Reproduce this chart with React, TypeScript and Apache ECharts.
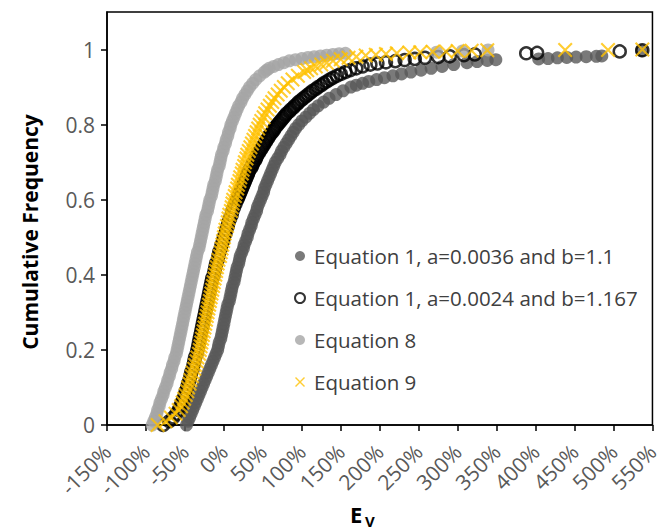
import React, { useEffect, useRef } from "react";
import * as echarts from "echarts";

// [E_v (%), cumulative frequency]
const eq1aData: [number, number][] = [
  [-48, 0.0], [-46, 0.01], [-44, 0.02], [-42, 0.03], [-40, 0.04], [-38, 0.05], [-36, 0.06], [-34, 0.07], [-32, 0.08], [-30, 0.09],
  [-28, 0.1], [-26, 0.11], [-24, 0.12], [-22, 0.13], [-20, 0.14], [-18, 0.15], [-16, 0.16], [-14, 0.17], [-12, 0.18], [-10, 0.19],
  [-8, 0.2], [-7, 0.21], [-6, 0.22], [-4, 0.23], [-3, 0.24], [-2, 0.25], [-1, 0.26], [0, 0.27], [1, 0.28], [2, 0.29],
  [3, 0.3], [4, 0.31], [5, 0.32], [7, 0.33], [8, 0.34], [9, 0.35], [10, 0.36], [11, 0.37], [13, 0.38], [14, 0.39],
  [15, 0.4], [16, 0.41], [17, 0.42], [19, 0.43], [20, 0.44], [21, 0.45], [23, 0.46], [25, 0.47], [26, 0.48], [28, 0.49],
  [30, 0.5], [31, 0.51], [33, 0.52], [35, 0.53], [36, 0.54], [38, 0.55], [40, 0.56], [42, 0.57], [43, 0.58], [45, 0.59],
  [47, 0.6], [49, 0.61], [51, 0.62], [52, 0.63], [54, 0.64], [56, 0.65], [58, 0.66], [60, 0.67], [62, 0.68], [64, 0.69],
  [66, 0.7], [69, 0.71], [72, 0.72], [74, 0.73], [77, 0.74], [80, 0.75], [83, 0.76], [86, 0.77], [89, 0.78], [92, 0.79],
  [96, 0.8], [100, 0.81], [105, 0.82], [110, 0.83], [115, 0.84], [121, 0.85], [128, 0.86], [135, 0.87], [144, 0.88], [153, 0.89],
  [163, 0.9], [170, 0.905], [178, 0.91], [186, 0.915], [196, 0.92], [206, 0.925], [217, 0.93], [228, 0.935], [240, 0.94], [253, 0.945],
  [266, 0.95], [280, 0.955], [295, 0.96], [312, 0.965], [325, 0.968], [338, 0.971], [349, 0.973], [404, 0.975], [416, 0.976], [428, 0.978],
  [440, 0.979], [452, 0.98], [465, 0.981], [478, 0.982], [485, 0.983], [536, 0.997],
];

const eq1bData: [number, number][] = [
  [-78, 0.0], [-70, 0.01], [-65, 0.02], [-61, 0.03], [-58, 0.04], [-56, 0.05], [-54, 0.06], [-52, 0.07], [-50, 0.08], [-49, 0.09],
  [-47, 0.1], [-46, 0.11], [-44, 0.12], [-43, 0.13], [-42, 0.14], [-40, 0.15], [-39, 0.16], [-38, 0.17], [-37, 0.18], [-35, 0.19],
  [-34, 0.2], [-33, 0.21], [-32, 0.22], [-31, 0.23], [-30, 0.24], [-29, 0.25], [-28, 0.26], [-27, 0.27], [-26, 0.28], [-25, 0.29],
  [-24, 0.3], [-23, 0.31], [-22, 0.32], [-21, 0.33], [-20, 0.34], [-19, 0.35], [-18, 0.36], [-17, 0.37], [-16, 0.38], [-15, 0.39],
  [-13, 0.4], [-12, 0.41], [-11, 0.42], [-10, 0.43], [-8, 0.44], [-7, 0.45], [-6, 0.46], [-4, 0.47], [-3, 0.48], [-1, 0.49],
  [0, 0.5], [2, 0.51], [3, 0.52], [5, 0.53], [6, 0.54], [8, 0.55], [10, 0.56], [11, 0.57], [13, 0.58], [15, 0.59],
  [17, 0.6], [18, 0.605], [19, 0.61], [20, 0.615], [21, 0.62], [22, 0.625], [23, 0.63], [24, 0.635], [25, 0.64], [26, 0.645],
  [27, 0.65], [28, 0.655], [29, 0.66], [30, 0.665], [31, 0.67], [32, 0.675], [33, 0.68], [35, 0.685], [36, 0.69], [37, 0.695],
  [38, 0.7], [40, 0.705], [41, 0.71], [42, 0.715], [43, 0.72], [45, 0.725], [46, 0.73], [48, 0.735], [49, 0.74], [51, 0.745],
  [52, 0.75], [54, 0.755], [55, 0.76], [57, 0.765], [58, 0.77], [60, 0.775], [62, 0.78], [64, 0.785], [65, 0.79], [67, 0.795],
  [69, 0.8], [71, 0.805], [73, 0.81], [75, 0.815], [77, 0.82], [79, 0.825], [81, 0.83], [84, 0.835], [86, 0.84], [89, 0.845],
  [91, 0.85], [94, 0.855], [96, 0.86], [99, 0.865], [102, 0.87], [105, 0.875], [108, 0.88], [111, 0.885], [114, 0.89], [118, 0.895],
  [121, 0.9], [125, 0.905], [128, 0.91], [132, 0.915], [136, 0.92], [140, 0.925], [145, 0.93], [150, 0.935], [156, 0.94], [162, 0.945],
  [170, 0.95], [178, 0.955], [188, 0.96], [197, 0.963], [208, 0.966], [220, 0.969], [232, 0.972], [245, 0.975], [258, 0.978], [275, 0.98],
  [290, 0.982], [308, 0.985], [322, 0.987], [388, 0.99], [402, 0.991], [508, 0.995], [537, 0.998],
];

const eq8Data: [number, number][] = [
  [-92, 0.0], [-90, 0.01], [-88, 0.02], [-86, 0.03], [-85, 0.04], [-83, 0.05], [-82, 0.06], [-80, 0.07], [-78, 0.08], [-77, 0.09],
  [-75, 0.1], [-73, 0.11], [-72, 0.12], [-70, 0.13], [-69, 0.14], [-67, 0.15], [-66, 0.16], [-64, 0.17], [-63, 0.18], [-61, 0.19],
  [-60, 0.2], [-59, 0.21], [-58, 0.22], [-57, 0.23], [-56, 0.24], [-55, 0.25], [-54, 0.26], [-53, 0.27], [-52, 0.28], [-51, 0.29],
  [-50, 0.3], [-49, 0.31], [-48, 0.32], [-47, 0.33], [-46, 0.34], [-45, 0.35], [-44, 0.36], [-43, 0.37], [-42, 0.38], [-41, 0.39],
  [-40, 0.4], [-39, 0.41], [-38, 0.42], [-37, 0.43], [-36, 0.44], [-35, 0.45], [-34, 0.46], [-32, 0.47], [-31, 0.48], [-30, 0.49],
  [-29, 0.5], [-28, 0.51], [-27, 0.52], [-26, 0.53], [-25, 0.54], [-24, 0.55], [-23, 0.56], [-21, 0.57], [-20, 0.58], [-19, 0.59],
  [-18, 0.6], [-16, 0.61], [-15, 0.62], [-14, 0.63], [-13, 0.64], [-11, 0.65], [-10, 0.66], [-9, 0.67], [-8, 0.68], [-6, 0.69],
  [-5, 0.7], [-4, 0.71], [-3, 0.72], [-1, 0.73], [0, 0.74], [2, 0.75], [3, 0.76], [5, 0.77], [6, 0.78], [8, 0.79],
  [9, 0.8], [11, 0.81], [13, 0.82], [15, 0.83], [17, 0.84], [19, 0.85], [22, 0.86], [24, 0.87], [27, 0.88], [30, 0.89],
  [33, 0.9], [37, 0.91], [41, 0.92], [46, 0.93], [52, 0.94], [55, 0.945], [58, 0.95], [64, 0.955], [70, 0.96], [77, 0.965],
  [84, 0.97], [92, 0.973], [100, 0.976], [108, 0.979], [116, 0.981], [124, 0.983], [132, 0.985], [140, 0.987], [148, 0.989], [156, 0.99],
  [273, 0.993], [306, 0.996], [339, 0.999],
];

const eq9Data: [number, number][] = [
  [-85, 0.0], [-75, 0.01], [-68, 0.02], [-62, 0.03], [-58, 0.04], [-55, 0.05], [-53, 0.06], [-51, 0.07], [-49, 0.08], [-47, 0.09],
  [-46, 0.1], [-44, 0.11], [-43, 0.12], [-41, 0.13], [-40, 0.14], [-38, 0.15], [-37, 0.16], [-35, 0.17], [-34, 0.18], [-32, 0.19],
  [-31, 0.2], [-30, 0.21], [-29, 0.22], [-28, 0.23], [-27, 0.24], [-26, 0.25], [-25, 0.26], [-24, 0.27], [-23, 0.28], [-22, 0.29],
  [-21, 0.3], [-20, 0.31], [-19, 0.32], [-18, 0.33], [-17, 0.34], [-16, 0.35], [-15, 0.36], [-14, 0.37], [-13, 0.38], [-12, 0.39],
  [-11, 0.4], [-10, 0.41], [-9, 0.42], [-8, 0.43], [-7, 0.44], [-5, 0.45], [-4, 0.46], [-3, 0.47], [-2, 0.48], [-1, 0.49],
  [0, 0.5], [1, 0.51], [2, 0.52], [4, 0.53], [5, 0.54], [6, 0.55], [7, 0.56], [9, 0.57], [10, 0.58], [11, 0.59],
  [12, 0.6], [14, 0.61], [15, 0.62], [17, 0.63], [18, 0.64], [20, 0.65], [21, 0.66], [23, 0.67], [24, 0.68], [26, 0.69],
  [27, 0.7], [29, 0.71], [30, 0.72], [32, 0.73], [34, 0.74], [36, 0.75], [38, 0.76], [40, 0.77], [42, 0.78], [44, 0.79],
  [46, 0.8], [48, 0.81], [51, 0.82], [53, 0.83], [56, 0.84], [59, 0.85], [62, 0.86], [65, 0.87], [69, 0.88], [73, 0.89],
  [77, 0.9], [82, 0.91], [88, 0.92], [95, 0.93], [103, 0.94], [107, 0.945], [112, 0.95], [118, 0.955], [125, 0.96], [132, 0.965],
  [140, 0.97], [150, 0.974], [160, 0.978], [170, 0.981], [182, 0.984], [195, 0.986], [208, 0.988], [222, 0.99], [238, 0.992], [252, 0.993],
  [268, 0.994], [285, 0.995], [300, 0.996], [318, 0.997], [338, 0.998], [438, 0.9985], [493, 0.999], [537, 1.0],
];

const xTicks = { min: -150, max: 550, step: 50 };
const yTickValues = [0, 0.2, 0.4, 0.6, 0.8, 1];

const seriesNames = [
  "Equation 1, a=0.0036 and b=1.1",
  "Equation 1, a=0.0024 and b=1.167",
  "Equation 8",
  "Equation 9",
];
const yTitle = "Cumulative Frequency";

const X_ICON =
  "path://M0,0.1 L0.1,0 L0.5,0.4 L0.9,0 L1,0.1 L0.6,0.5 L1,0.9 L0.9,1 L0.5,0.6 L0.1,1 L0,0.9 L0.4,0.5 Z";

const FONT = '"Open Sans", "Liberation Sans", sans-serif';

export default function App() {
  const ref = useRef<HTMLDivElement>(null);
  useEffect(() => {
    if (!ref.current) return;
    const chart = echarts.init(ref.current, undefined, { renderer: "svg" });
    chart.setOption({
      animation: false,
      backgroundColor: "#fff",
      grid: {
        left: 107,
        right: 3,
        top: 12,
        bottom: 107,
        show: true,
        borderColor: "#000",
        borderWidth: 1.5,
        backgroundColor: "transparent",
      },
      xAxis: {
        type: "value",
        min: xTicks.min,
        max: xTicks.max,
        interval: xTicks.step,
        axisLine: { show: true, onZero: false, lineStyle: { color: "#000", width: 1.5 } },
        axisTick: { show: true, inside: false, length: 6, lineStyle: { color: "#000", width: 1.5 } },
        axisLabel: {
          rotate: 45,
          formatter: "{value}%",
          color: "#595959",
          fontSize: 21,
          fontFamily: FONT,
          margin: 23,
        },
        splitLine: { show: false },
      },
      yAxis: {
        type: "value",
        min: 0,
        max: 1.1,
        axisLine: { show: true, onZero: false, lineStyle: { color: "#000", width: 1.5 } },
        axisTick: { show: true, inside: false, length: 6, customValues: yTickValues, lineStyle: { color: "#000", width: 1.5 } },
        axisLabel: {
          customValues: yTickValues,
          color: "#595959",
          fontSize: 21,
          fontFamily: FONT,
          margin: 12,
          formatter: (v: number) => String(v),
        },
        splitLine: { show: false },
      },
      legend: {
        orient: "vertical",
        left: 294,
        top: 245,
        padding: 0,
        itemWidth: 10,
        itemHeight: 10,
        itemGap: 20,
        textStyle: { fontFamily: FONT, fontSize: 20.5, color: "#404040", lineHeight: 22, padding: [0, 0, 0, 4] },
        data: [
          { name: seriesNames[0], icon: "circle" },
          { name: seriesNames[1], icon: "circle" },
          { name: seriesNames[2], icon: "circle" },
          { name: seriesNames[3], icon: X_ICON },
        ],
      },
      graphic: [
        {
          type: "text",
          x: 30,
          y: 232,
          rotation: Math.PI / 2,
          style: {
            text: yTitle,
            font: `bold 21px ${FONT}`,
            fill: "#000",
            textAlign: "center",
            textVerticalAlign: "middle",
          },
        },
        {
          type: "text",
          left: 350,
          top: 503,
          style: { text: "E", font: `bold 22px ${FONT}`, fill: "#000" },
        },
        {
          type: "text",
          left: 365,
          top: 513,
          style: { text: "V", font: `bold 15px ${FONT}`, fill: "#000" },
        },
      ],
      series: [
        {
          type: "scatter",
          name: seriesNames[0],
          data: eq1aData,
          symbol: "circle",
          symbolSize: 13,
          itemStyle: { color: "#595959" },
        },
        {
          type: "scatter",
          name: seriesNames[1],
          data: eq1bData,
          symbol: "circle",
          symbolSize: 12,
          itemStyle: { color: "rgba(255,255,255,0)", borderColor: "#000", borderWidth: 2.5 },
        },
        {
          type: "scatter",
          name: seriesNames[2],
          data: eq8Data,
          symbol: "circle",
          symbolSize: 13,
          itemStyle: { color: "#A5A5A5" },
        },
        {
          type: "scatter",
          name: seriesNames[3],
          data: eq9Data,
          symbol: X_ICON,
          symbolSize: 15,
          itemStyle: { color: "#FFC000" },
        },
      ],
    });
    return () => chart.dispose();
  }, []);
  return <div ref={ref} style={{ width: 662, height: 532, position: "absolute", left: 0, top: 0 }} />;
}
